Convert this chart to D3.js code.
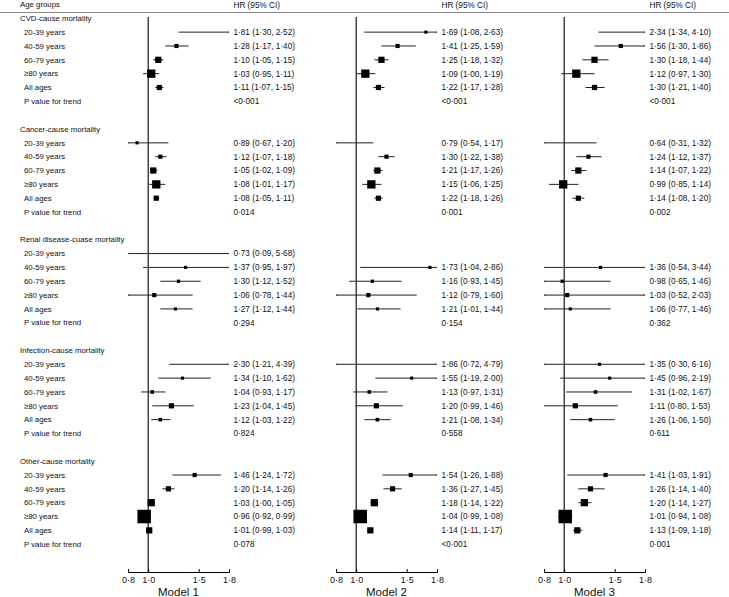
<!DOCTYPE html>
<html>
<head>
<meta charset="utf-8">
<script src="https://cdn.jsdelivr.net/npm/d3@7"></script>
<style>
  body { margin: 0; background: #fff; }
  text { font-family: "Liberation Sans", Arial, sans-serif; fill: #111; }
</style>
</head>
<body>
<svg class="chart"></svg>
<script>
// ---- data ----
var causes = ["CVD-cause mortality", "Cancer-cause mortality", "Renal disease-cuase mortality",
              "Infection-cause mortality", "Other-cause mortality"];
var ageGroups = ["20-39 years", "40-59 years", "60-79 years", "\u226580 years", "All ages"];
var models = ["Model 1", "Model 2", "Model 3"];
var axisTicks = [0.8, 1.0, 1.5, 1.8];

// [HR, lower, upper] per age group, one block per cause (null = not estimated)
var model1 = [
  [[1.81, 1.30, 2.52], [1.28, 1.17, 1.40], [1.10, 1.05, 1.15], [1.03, 0.95, 1.11], [1.11, 1.07, 1.15]],
  [[0.89, 0.67, 1.20], [1.12, 1.07, 1.18], [1.05, 1.02, 1.09], [1.08, 1.01, 1.17], [1.08, 1.05, 1.11]],
  [[0.73, 0.09, 5.68], [1.37, 0.95, 1.97], [1.30, 1.12, 1.52], [1.06, 0.78, 1.44], [1.27, 1.12, 1.44]],
  [[2.30, 1.21, 4.39], [1.34, 1.10, 1.62], [1.04, 0.93, 1.17], [1.23, 1.04, 1.45], [1.12, 1.03, 1.22]],
  [[1.46, 1.24, 1.72], [1.20, 1.14, 1.26], [1.03, 1.00, 1.05], [0.96, 0.92, 0.99], [1.01, 0.99, 1.03]]
];
var model2 = [
  [[1.69, 1.08, 2.63], [1.41, 1.25, 1.59], [1.25, 1.18, 1.32], [1.09, 1.00, 1.19], [1.22, 1.17, 1.28]],
  [[0.79, 0.54, 1.17], [1.30, 1.22, 1.38], [1.21, 1.17, 1.26], [1.15, 1.06, 1.25], [1.22, 1.18, 1.26]],
  [null,               [1.73, 1.04, 2.86], [1.16, 0.93, 1.45], [1.12, 0.79, 1.60], [1.21, 1.01, 1.44]],
  [[1.86, 0.72, 4.79], [1.55, 1.19, 2.00], [1.13, 0.97, 1.31], [1.20, 0.99, 1.46], [1.21, 1.08, 1.34]],
  [[1.54, 1.26, 1.88], [1.36, 1.27, 1.45], [1.18, 1.14, 1.22], [1.04, 0.99, 1.08], [1.14, 1.11, 1.17]]
];
var model3 = [
  [[2.34, 1.34, 4.10], [1.56, 1.30, 1.86], [1.30, 1.18, 1.44], [1.12, 0.97, 1.30], [1.30, 1.21, 1.40]],
  [[0.64, 0.31, 1.32], [1.24, 1.12, 1.37], [1.14, 1.07, 1.22], [0.99, 0.85, 1.14], [1.14, 1.08, 1.20]],
  [null,               [1.36, 0.54, 3.44], [0.98, 0.65, 1.46], [1.03, 0.52, 2.03], [1.06, 0.77, 1.46]],
  [[1.35, 0.30, 6.16], [1.45, 0.96, 2.19], [1.31, 1.02, 1.67], [1.11, 0.80, 1.53], [1.26, 1.06, 1.50]],
  [[1.41, 1.03, 1.91], [1.26, 1.14, 1.40], [1.20, 1.14, 1.27], [1.01, 0.94, 1.08], [1.13, 1.09, 1.18]]
];
var pTrend = [
  ["<0\u00b7001", "0\u00b7014", "0\u00b7294", "0\u00b7824", "0\u00b7078"],
  ["<0\u00b7001", "0\u00b7001", "0\u00b7154", "0\u00b7558", "<0\u00b7001"],
  ["<0\u00b7001", "0\u00b7002", "0\u00b7362", "0\u00b7611", "0\u00b7001"]
];
// relative weight of each estimate (box area), per cause and age group
var weights = [
  [9, 16, 36, 64, 25],
  [9, 16, 36, 64, 25],
  [9, 9, 10, 16, 9],
  [9, 9, 12, 25, 12],
  [16, 25, 49, 169, 36]
];

// ---- layout ----
var W = 729, H = 597;
var panelLeft = [128, 336, 544];   // x of 0.8 in each panel
var panelWidth = 101;
var textOffset = 105.5;
var axisY = 572;
var labelFont = "7.8px", numFont = "8.2px";

var chart = d3.select(".chart")
    .attr("width", W)
    .attr("height", H);

var modelData = [model1, model2, model3];

// one row every ~13.8px, 8 rows per cause block
var y = d3.scaleLinear().domain([0, 38]).range([18.3, 544.2]);
var boxSize = d3.scaleSqrt().domain([0, 169]).range([0, 13.5]);
var fmt = function (v) { return d3.format(".2f")(v).replace(".", "\u00b7"); };

// header
chart.append("text").attr("x", 20).attr("y", 4.7).attr("dy", "0.35em")
    .style("font-size", labelFont).text("Age groups");
chart.append("line")
    .attr("x1", 0).attr("x2", W).attr("y1", 12.5).attr("y2", 12.5)
    .attr("stroke", "#8a8a8a").attr("stroke-width", 1.2);

// row labels
causes.forEach(function (c, ci) {
    var base = ci * 8;
    chart.append("text").attr("x", 20).attr("y", y(base)).attr("dy", "0.35em")
        .style("font-size", labelFont).text(c);
    ageGroups.concat(["P value for trend"]).forEach(function (a, ai) {
        chart.append("text").attr("x", 24).attr("y", y(base + 1 + ai)).attr("dy", "0.35em")
            .style("font-size", labelFont).text(a);
    });
});

// panels
models.forEach(function (m, mi) {
    var x = d3.scaleLinear().domain([0.8, 1.8]).range([panelLeft[mi], panelLeft[mi] + panelWidth]);
    var g = chart.append("g");
    var tx = panelLeft[mi] + textOffset;

    g.append("text").attr("x", tx).attr("y", 4.7).attr("dy", "0.35em")
        .style("font-size", numFont).text("HR (95% CI)");

    // reference line at HR = 1
    g.append("line")
        .attr("x1", x(1)).attr("x2", x(1)).attr("y1", 17).attr("y2", axisY)
        .attr("stroke", "#000").attr("stroke-width", 1.1);

    // flatten rows
    var rows = [];
    modelData[mi].forEach(function (block, ci) {
        block.forEach(function (d, ai) {
            if (d) rows.push({ row: ci * 8 + 1 + ai, hr: d[0], lo: d[1], hi: d[2], w: weights[ci][ai] });
        });
    });

    var est = g.selectAll(".est").data(rows).enter().append("g").attr("class", "est");

    est.append("line")
        .attr("x1", function (d) { return x(Math.max(d.lo, 0.8)); })
        .attr("x2", function (d) { return x(Math.min(d.hi, 1.8)); })
        .attr("y1", function (d) { return y(d.row); })
        .attr("y2", function (d) { return y(d.row); })
        .attr("stroke", "#222").attr("stroke-width", 1);

    // tiny tips where the interval is cut by the axis range
    est.filter(function (d) { return d.hi > 1.8; }).append("path")
        .attr("d", function (d) {
            var ex = x(1.8), ey = y(d.row);
            return "M" + (ex - 1.5) + "," + (ey - 1) + "L" + ex + "," + ey + "L" + (ex - 1.5) + "," + (ey + 1) + "Z";
        }).attr("fill", "#444");
    est.filter(function (d) { return d.lo < 0.8; }).append("path")
        .attr("d", function (d) {
            var ex = x(0.8), ey = y(d.row);
            return "M" + (ex + 1.5) + "," + (ey - 1) + "L" + ex + "," + ey + "L" + (ex + 1.5) + "," + (ey + 1) + "Z";
        }).attr("fill", "#444");

    est.filter(function (d) { return d.hr >= 0.8 && d.hr <= 1.8; }).append("rect")
        .attr("x", function (d) { return x(d.hr) - boxSize(d.w) / 2; })
        .attr("y", function (d) { return y(d.row) - boxSize(d.w) / 2; })
        .attr("width", function (d) { return boxSize(d.w); })
        .attr("height", function (d) { return boxSize(d.w); })
        .attr("fill", "#000");

    // estimate text
    est.append("text")
        .attr("x", tx)
        .attr("y", function (d) { return y(d.row); })
        .attr("dy", "0.35em")
        .style("font-size", numFont)
        .text(function (d) { return fmt(d.hr) + " (" + fmt(d.lo) + ", " + fmt(d.hi) + ")"; });

    pTrend[mi].forEach(function (p, ci) {
        g.append("text").attr("x", tx).attr("y", y(ci * 8 + 6)).attr("dy", "0.35em")
            .style("font-size", numFont).text(p);
    });

    // axis
    var axis = d3.axisBottom(x)
        .tickValues(axisTicks)
        .tickSizeInner(-3)
        .tickSizeOuter(-3)
        .tickPadding(5)
        .tickFormat(function (v) { return d3.format(".1f")(v).replace(".", "\u00b7"); });

    var ag = g.append("g").attr("transform", "translate(0," + axisY + ")").call(axis);
    ag.selectAll("path, line").attr("stroke", "#000");
    ag.selectAll("text").style("font-size", "9px").style("font-family", "'Liberation Sans', Arial, sans-serif").attr("fill", "#111");

    g.append("text")
        .attr("x", x(1.3)).attr("y", 592).attr("dy", "0.35em")
        .attr("text-anchor", "middle")
        .style("font-size", "11.5px")
        .text(m);
});
</script>
</body>
</html>
